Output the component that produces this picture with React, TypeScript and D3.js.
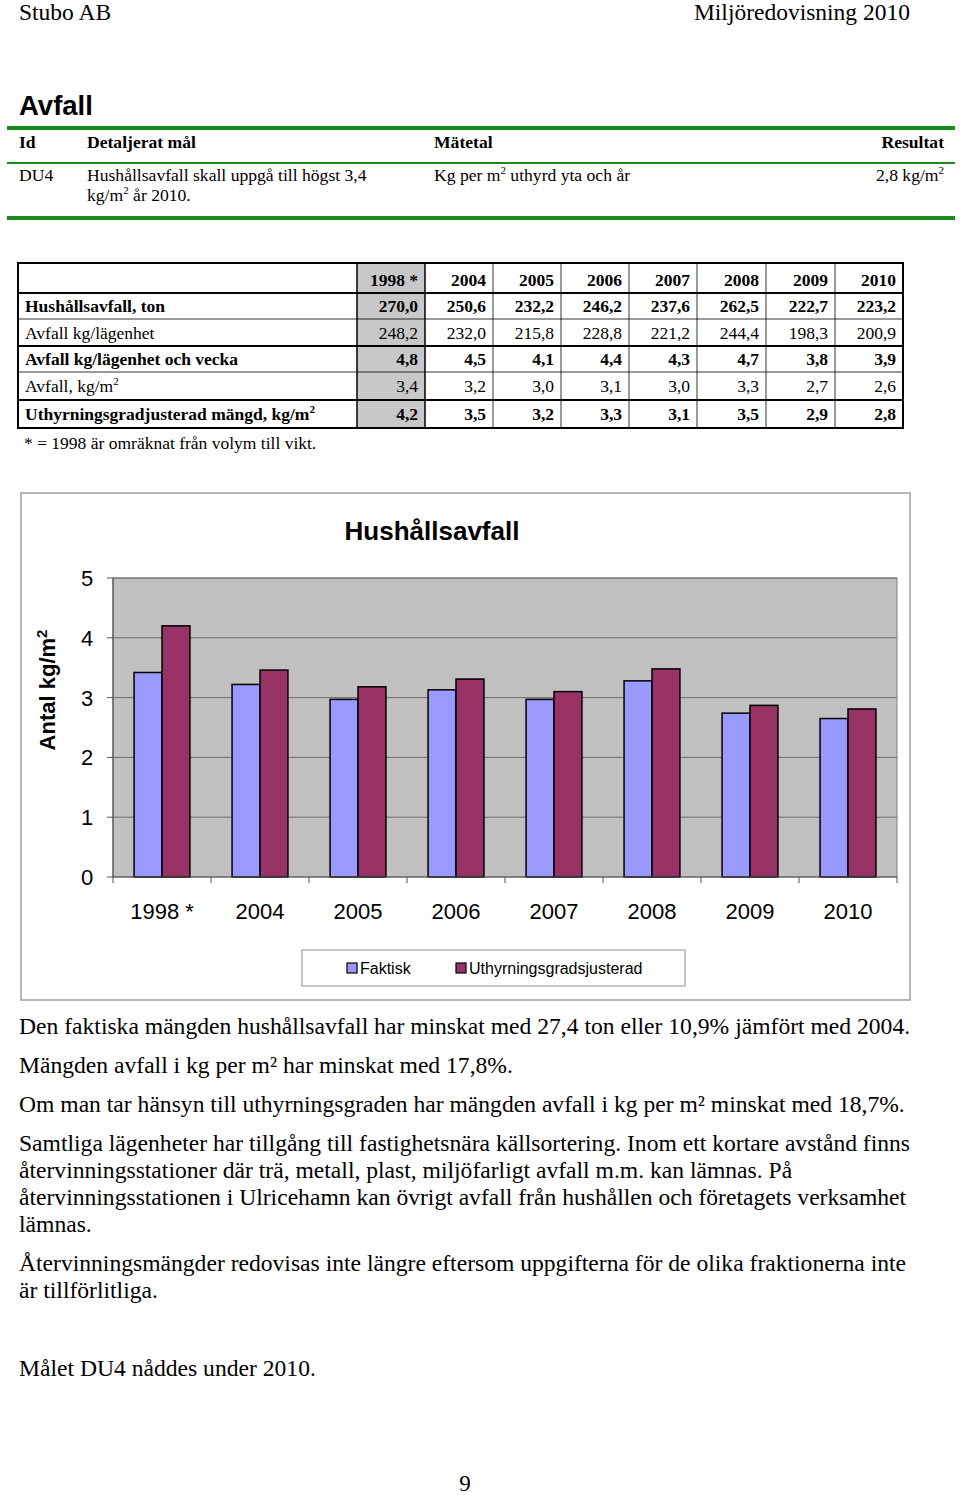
import React from "react";
import * as d3 from "d3";

const years = ["1998 *", "2004", "2005", "2006", "2007", "2008", "2009", "2010"];
const faktisk = [3.42, 3.22, 2.97, 3.13, 2.97, 3.28, 2.74, 2.65];
const justerad = [4.2, 3.46, 3.18, 3.31, 3.1, 3.48, 2.87, 2.81];
const seriesNames = ["Faktisk", "Uthyrningsgradsjusterad"];
const seriesColors = ["#9999ff", "#993366"];
const yTicks = [0, 1, 2, 3, 4, 5];

const tableRows = [
  { label: "Hushållsavfall, ton", bold: true, values: ["270,0", "250,6", "232,2", "246,2", "237,6", "262,5", "222,7", "223,2"] },
  { label: "Avfall kg/lägenhet", bold: false, values: ["248,2", "232,0", "215,8", "228,8", "221,2", "244,4", "198,3", "200,9"] },
  { label: "Avfall kg/lägenhet och vecka", bold: true, values: ["4,8", "4,5", "4,1", "4,4", "4,3", "4,7", "3,8", "3,9"] },
  { label: "Avfall, kg/m", sup: true, bold: false, values: ["3,4", "3,2", "3,0", "3,1", "3,0", "3,3", "2,7", "2,6"] },
  { label: "Uthyrningsgradjusterad mängd, kg/m", sup: true, bold: true, values: ["4,2", "3,5", "3,2", "3,3", "3,1", "3,5", "2,9", "2,8"] },
];

const paragraphs = [
  { y: 1034, text: "Den faktiska mängden hushållsavfall har minskat med 27,4 ton eller 10,9% jämfört med 2004." },
  { y: 1073, text: "Mängden avfall i kg per m² har minskat med 17,8%." },
  { y: 1112, text: "Om man tar hänsyn till uthyrningsgraden har mängden avfall i kg per m² minskat med 18,7%." },
  { y: 1151, text: "Samtliga lägenheter har tillgång till fastighetsnära källsortering. Inom ett kortare avstånd finns" },
  { y: 1178, text: "återvinningsstationer där trä, metall, plast, miljöfarligt avfall m.m. kan lämnas. På" },
  { y: 1205, text: "återvinningsstationen i Ulricehamn kan övrigt avfall från hushållen och företagets verksamhet" },
  { y: 1232, text: "lämnas." },
  { y: 1271, text: "Återvinningsmängder redovisas inte längre eftersom uppgifterna för de olika fraktionerna inte" },
  { y: 1298, text: "är tillförlitliga." },
  { y: 1376, text: "Målet DU4 nåddes under 2010." },
];

const serif = "'Liberation Serif', 'Times New Roman', serif";
const sans = "'Liberation Sans', Arial, sans-serif";

export default function App() {
  // chart geometry
  const plot = { x0: 113, x1: 897, y0: 578, y1: 877 };
  const x = d3.scaleBand<string>().domain(years).range([plot.x0, plot.x1]).paddingInner(0.43).paddingOuter(0.215);
  const step = x.step();
  const xs = d3.scaleBand<number>().domain([0, 1]).range([0, x.bandwidth()]);
  const y = d3.scaleLinear().domain([0, 5]).range([plot.y1, plot.y0]);
  const series = [faktisk, justerad];

  // table geometry
  const colEdges = [18, 357, 425, 493, 561, 629, 697, 766, 835, 903];
  const rowEdges = [263, 293, 319, 346, 372, 400, 428];
  const thickRows = [293, 346, 400];

  return (
    <svg width={960} height={1495} style={{ position: "absolute", left: 0, top: 0, background: "#fff" }}>
      {/* page header */}
      <text x={19} y={20} fontFamily={serif} fontSize={23.5}>Stubo AB</text>
      <text x={910} y={20} fontFamily={serif} fontSize={23.5} textAnchor="end">Miljöredovisning 2010</text>

      <text x={19} y={115} fontFamily={sans} fontSize={27.5} fontWeight="bold">Avfall</text>
      <rect x={7} y={126} width={948} height={4} fill="#1a8a1a" />
      <text fontFamily={serif} fontSize={17.6} fontWeight="bold" y={148}>
        <tspan x={19}>Id</tspan>
        <tspan x={87}>Detaljerat mål</tspan>
        <tspan x={434}>Mätetal</tspan>
      </text>
      <text x={944} y={148} fontFamily={serif} fontSize={17.6} fontWeight="bold" textAnchor="end">Resultat</text>
      <rect x={7} y={162} width={948} height={2} fill="#1a8a1a" />
      <text fontFamily={serif} fontSize={17.6} y={181}>
        <tspan x={19}>DU4</tspan>
        <tspan x={87}>Hushållsavfall skall uppgå till högst 3,4</tspan>
      </text>
      <text fontFamily={serif} fontSize={17.6} x={87} y={201}>
        kg/m<tspan fontSize={11} dy={-7}>2</tspan><tspan dy={7}> år 2010.</tspan>
      </text>
      <text fontFamily={serif} fontSize={17.6} x={434} y={181}>
        Kg per m<tspan fontSize={11} dy={-7}>2</tspan><tspan dy={7}> uthyrd yta och år</tspan>
      </text>
      <text fontFamily={serif} fontSize={17.6} x={944} y={181} textAnchor="end">
        2,8 kg/m<tspan fontSize={11} dy={-7}>2</tspan>
      </text>
      <rect x={7} y={216} width={948} height={4} fill="#1a8a1a" />

      {/* data table */}
      <rect x={colEdges[1]} y={rowEdges[0]} width={colEdges[2] - colEdges[1]} height={rowEdges[6] - rowEdges[0]} fill="#c8c8c8" />
      {rowEdges.slice(1, -1).map((ry) => (
        <line key={ry} x1={colEdges[0]} x2={colEdges[9]} y1={ry} y2={ry} stroke="#000" strokeWidth={thickRows.includes(ry) ? 2 : 0.8} />
      ))}
      {colEdges.slice(1, -1).map((cx) => (
        <line key={cx} x1={cx} x2={cx} y1={rowEdges[0]} y2={rowEdges[6]} stroke="#000" strokeWidth={cx === 357 || cx === 425 ? 1.5 : 0.8} />
      ))}
      <rect x={colEdges[0]} y={rowEdges[0]} width={colEdges[9] - colEdges[0]} height={rowEdges[6] - rowEdges[0]} fill="none" stroke="#000" strokeWidth={2} />
      {years.map((yr, i) => (
        <text key={yr} x={colEdges[i + 2] - 7} y={286} fontFamily={serif} fontSize={17.5} fontWeight="bold" textAnchor="end">{yr}</text>
      ))}
      {tableRows.map((r, ri) => {
        const by = (rowEdges[ri + 1] + rowEdges[ri + 2]) / 2 + 6;
        return (
          <g key={r.label} fontFamily={serif} fontSize={17.5} fontWeight={r.bold ? "bold" : "normal"}>
            <text x={25} y={by}>
              {r.label}
              {r.sup && <tspan fontSize={11} dy={-7}>2</tspan>}
            </text>
            {r.values.map((v, i) => (
              <text key={i} x={colEdges[i + 2] - 7} y={by} textAnchor="end">{v}</text>
            ))}
          </g>
        );
      })}
      <text x={24} y={449} fontFamily={serif} fontSize={17.5}>* = 1998 är omräknat från volym till vikt.</text>

      {/* chart */}
      <rect x={21} y={493} width={889} height={507} fill="#fff" stroke="#a0a0a0" strokeWidth={1.5} />
      <text x={432} y={540} fontFamily={sans} fontSize={26} fontWeight="bold" textAnchor="middle">Hushållsavfall</text>
      <rect x={plot.x0} y={plot.y0} width={plot.x1 - plot.x0} height={plot.y1 - plot.y0} fill="#c0c0c0" stroke="#808080" strokeWidth={1} />
      {yTicks.filter((t) => t > 0).map((t) => (
        <line key={t} x1={plot.x0} x2={plot.x1} y1={y(t)} y2={y(t)} stroke="#6e6e6e" strokeWidth={1} />
      ))}
      {series.map((vals, si) =>
        vals.map((v, i) => (
          <rect
            key={`${si}-${i}`}
            x={x(years[i])! + xs(si)!}
            y={y(v)}
            width={xs.bandwidth()}
            height={y(0) - y(v)}
            fill={seriesColors[si]}
            stroke="#000"
            strokeWidth={1.5}
          />
        ))
      )}
      {/* axes */}
      <line x1={plot.x0} x2={plot.x0} y1={plot.y0} y2={plot.y1} stroke="#555" strokeWidth={1.2} />
      <line x1={plot.x0} x2={plot.x1} y1={plot.y1} y2={plot.y1} stroke="#555" strokeWidth={1.2} />
      {yTicks.map((t) => (
        <g key={t}>
          <line x1={plot.x0 - 6} x2={plot.x0} y1={y(t)} y2={y(t)} stroke="#555" />
          <text x={87} y={y(t) + 8} fontFamily={sans} fontSize={22} textAnchor="middle">{t}</text>
        </g>
      ))}
      {d3.range(years.length + 1).map((i) => (
        <line key={i} x1={plot.x0 + i * step} x2={plot.x0 + i * step} y1={plot.y1} y2={plot.y1 + 6} stroke="#555" />
      ))}
      {years.map((yr) => (
        <text key={yr} x={x(yr)! + x.bandwidth() / 2} y={919} fontFamily={sans} fontSize={22} textAnchor="middle">{yr}</text>
      ))}
      <text transform="translate(55,690) rotate(-90)" fontFamily={sans} fontSize={22} fontWeight="bold" textAnchor="middle">
        Antal kg/m<tspan fontSize={15} dy={-8}>2</tspan>
      </text>

      {/* legend */}
      <rect x={302} y={950} width={383} height={36} fill="#fff" stroke="#a0a0a0" strokeWidth={1.2} />
      {seriesNames.map((name, si) => {
        const lx = si === 0 ? 347 : 456;
        return (
          <g key={name}>
            <rect x={lx} y={963} width={10} height={10} fill={seriesColors[si]} stroke="#000" strokeWidth={1.2} />
            <text x={lx + 13} y={974} fontFamily={sans} fontSize={16}>{name}</text>
          </g>
        );
      })}

      {/* body text */}
      {paragraphs.map((p) => (
        <text key={p.y} x={19} y={p.y} fontFamily={serif} fontSize={23.6}>{p.text}</text>
      ))}
      <text x={465} y={1491} fontFamily={serif} fontSize={23} textAnchor="middle">9</text>
    </svg>
  );
}
